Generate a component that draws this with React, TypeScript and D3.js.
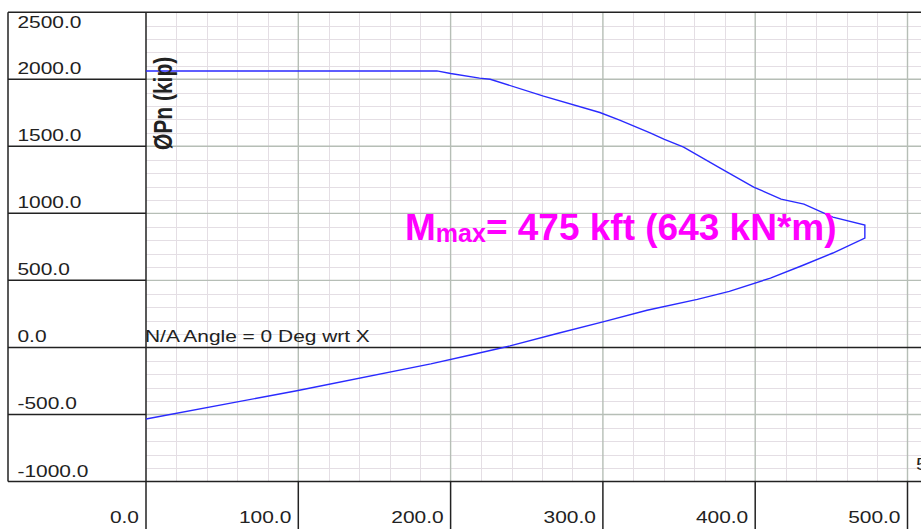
import React from "react";
import * as d3 from "d3";

// Interaction diagram points: moment (kft) and axial load (kip)
const momentValues = [0, 191, 200, 219, 226, 261, 298, 311, 331, 340, 353, 377, 399, 417, 432, 451, 472, 472, 451, 431, 410, 383, 362, 329, 300, 270, 239, 213, 187, 99, 0];
const loadValues = [2062, 2062, 2043, 2008, 2000, 1874, 1752, 1695, 1600, 1553, 1493, 1337, 1196, 1106, 1069, 972, 912, 815, 704, 611, 517, 418, 358, 277, 190, 104, 11, -57, -123, -323, -534];

const xTicks = [0, 100, 200, 300, 400, 500];
const yTicks = [2500, 2000, 1500, 1000, 500, 0, -500, -1000];
const xMinorStep = 20;
const yMinorStep = 100;

const yAxisTitle = "ØPn (kip)";
const angleNote = "N/A Angle = 0 Deg wrt X";
const annotationMain = "M";
const annotationSub = "max";
const annotationRest = "= 475 kft (643 kN*m)";

const W = 921;
const H = 529;
const FONT = "'Liberation Sans', Arial, Helvetica, sans-serif";
const SX = 1.23;

export default function App() {
  const x = d3.scaleLinear().domain([0, 500]).range([146, 907.5]);
  const y = d3.scaleLinear().domain([-1000, 2500]).range([481.5, 12.2]);
  const crisp = (v: number) => Math.round(v) + 0.5;

  const xMinor = d3.range(0, 541, xMinorStep);
  const yMinor = d3.range(-1000, 2501, yMinorStep);

  const pts: [number, number][] = momentValues.map((m, i) => [m, loadValues[i]]);
  const line = d3
    .line<[number, number]>()
    .x((d) => x(d[0]))
    .y((d) => y(d[1]));

  const plotLeft = x(0);
  const plotTop = y(2500);
  const plotBottom = y(-1000);
  const boxLeft = 8;

  return (
    <svg
      width={W}
      height={H}
      style={{ position: "absolute", left: 0, top: 0, background: "#fff" }}
    >
      <rect x={0} y={0} width={W} height={H} fill="#fff" />
      {/* minor grid */}
      <g stroke="#e4dee4" strokeWidth={1}>
        {xMinor.filter((v) => v % 100 !== 0).map((v) => (
          <line key={"vx" + v} x1={crisp(x(v))} x2={crisp(x(v))} y1={plotTop} y2={plotBottom} />
        ))}
        {yMinor.filter((v) => v % 500 !== 0).map((v) => (
          <line key={"hy" + v} x1={plotLeft} x2={W} y1={crisp(y(v))} y2={crisp(y(v))} />
        ))}
      </g>
      {/* major grid */}
      <g stroke="#b6beb6" strokeWidth={1.4}>
        {xMinor.filter((v) => v % 100 === 0 && v !== 0).map((v) => (
          <line key={"Vx" + v} x1={x(v)} x2={x(v)} y1={plotTop} y2={plotBottom} />
        ))}
        {yTicks.filter((v) => v !== 0 && v !== 2500 && v !== -1000).map((v) => (
          <line key={"Hy" + v} x1={plotLeft} x2={W} y1={y(v)} y2={y(v)} />
        ))}
      </g>
      {/* black frame lines */}
      <g stroke="#222" strokeWidth={1.5}>
        <line x1={boxLeft} x2={W} y1={plotTop} y2={plotTop} />
        <line x1={boxLeft} x2={W} y1={plotBottom} y2={plotBottom} />
        <line x1={boxLeft} x2={boxLeft} y1={plotTop} y2={plotBottom} />
        <line x1={plotLeft} x2={plotLeft} y1={plotTop} y2={H} />
        <line x1={plotLeft} x2={W} y1={y(0)} y2={y(0)} />
        {yTicks.filter((v) => v !== 2500 && v !== -1000).map((v) => (
          <line key={"ty" + v} x1={boxLeft} x2={plotLeft} y1={y(v)} y2={y(v)} />
        ))}
        {xTicks.filter((v) => v !== 0).map((v) => (
          <line key={"tx" + v} x1={x(v)} x2={x(v)} y1={plotBottom} y2={H} />
        ))}
      </g>
      {/* curve */}
      <path d={line(pts) || ""} fill="none" stroke="#2a2aff" strokeWidth={1.4} />
      {/* y tick labels */}
      <g fontFamily={FONT} fontSize={17} fill="#222">
        {yTicks.map((v) => (
          <text
            key={"ly" + v}
            transform={`translate(17.5,${v === 2500 ? y(v) + 16 : y(v) - 5}) scale(${SX},1)`}
          >
            {v.toFixed(1)}
          </text>
        ))}
        {xTicks.map((v) => (
          <text
            key={"lx" + v}
            textAnchor="end"
            transform={`translate(${x(v) - 7},523) scale(${SX},1)`}
          >
            {v.toFixed(1)}
          </text>
        ))}
        <text transform={`translate(145,${y(0) - 5}) scale(${SX},1)`}>{angleNote}</text>
        <text transform={`translate(916,470) scale(${SX},1)`}>5</text>
        <text
          fontWeight="bold"
          fontSize={21}
          transform={`translate(172,150) scale(${SX},1) rotate(-90)`}
        >
          {yAxisTitle}
        </text>
      </g>
      {/* annotation */}
      <text x={405} y={240} fontFamily={FONT} fontWeight="bold" fontSize={37} fill="#ff00ff">
        {annotationMain}
        <tspan fontSize={25} dy={2}>
          {annotationSub}
        </tspan>
        <tspan fontSize={37} dy={-2}>
          {annotationRest}
        </tspan>
      </text>
    </svg>
  );
}
